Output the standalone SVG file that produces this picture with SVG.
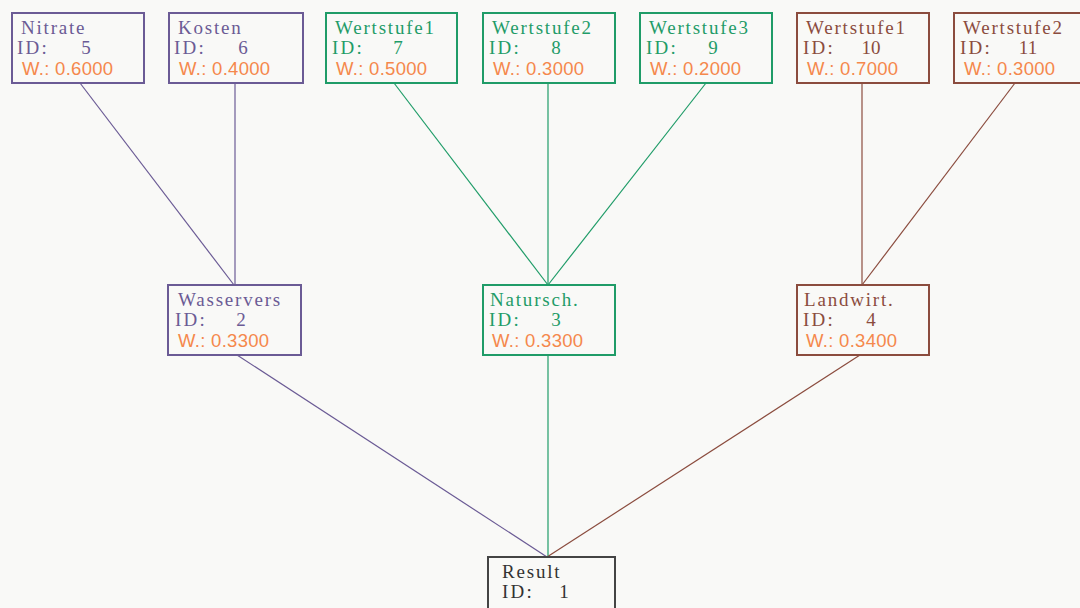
<svg xmlns="http://www.w3.org/2000/svg" width="1080" height="608" viewBox="0 0 1080 608">
<style>
.bg{fill:#f9f9f7}
.box{fill:#f9f9f7;stroke-width:2}
.nm{font-family:"Liberation Serif",serif;font-size:19px;letter-spacing:1.8px}
.id{font-family:"Liberation Serif",serif;font-size:19px;letter-spacing:2.2px}
.num{font-family:"Liberation Serif",serif;font-size:19px;text-anchor:middle}
.w{font-family:"Liberation Sans",sans-serif;font-size:18.5px;letter-spacing:0.3px;fill:#f5884c}
.p{stroke:#6b5b95}.pt{fill:#6b5b95}
.g{stroke:#1f9c68}.gt{fill:#1f9c68}
.b{stroke:#8b4c3e}.bt{fill:#8b4c3e}
.k{stroke:#444}.kt{fill:#333}
.c{fill:none;stroke-width:1.2}
</style>
<rect class="bg" x="0" y="0" width="1080" height="608"/>
<g id="connectors">
<line class="c p" x1="80" y1="83" x2="234" y2="285"/>
<line class="c p" x1="235" y1="83" x2="235" y2="285"/>
<line class="c g" x1="394" y1="83" x2="548" y2="285"/>
<line class="c g" x1="548" y1="83" x2="548" y2="285"/>
<line class="c g" x1="706" y1="83" x2="548" y2="285"/>
<line class="c b" x1="862" y1="83" x2="862" y2="285"/>
<line class="c b" x1="1015" y1="83" x2="862" y2="285"/>
<line class="c p" x1="237" y1="355" x2="547" y2="557"/>
<line class="c g" x1="548" y1="355" x2="548" y2="557"/>
<line class="c b" x1="860" y1="355" x2="547" y2="557"/>
</g>
<g id="n5"><rect class="box p" x="12" y="13" width="132" height="70"/><text class="nm pt" x="21" y="34">Nitrate</text><text class="id pt" x="17" y="54">ID:</text><text class="num pt" x="86" y="54">5</text><text class="w" x="22" y="75">W.: 0.6000</text></g>
<g id="n6"><rect class="box p" x="169" y="13" width="134" height="70"/><text class="nm pt" x="178" y="34">Kosten</text><text class="id pt" x="174" y="54">ID:</text><text class="num pt" x="243" y="54">6</text><text class="w" x="179" y="75">W.: 0.4000</text></g>
<g id="n7"><rect class="box g" x="326" y="13" width="131" height="70"/><text class="nm gt" x="335" y="34">Wertstufe1</text><text class="id gt" x="332" y="54">ID:</text><text class="num gt" x="398" y="54">7</text><text class="w" x="336" y="75">W.: 0.5000</text></g>
<g id="n8"><rect class="box g" x="483" y="13" width="132" height="70"/><text class="nm gt" x="492" y="34">Wertstufe2</text><text class="id gt" x="489" y="54">ID:</text><text class="num gt" x="556" y="54">8</text><text class="w" x="493" y="75">W.: 0.3000</text></g>
<g id="n9"><rect class="box g" x="640" y="13" width="132" height="70"/><text class="nm gt" x="649" y="34">Wertstufe3</text><text class="id gt" x="646" y="54">ID:</text><text class="num gt" x="713" y="54">9</text><text class="w" x="650" y="75">W.: 0.2000</text></g>
<g id="n10"><rect class="box b" x="797" y="13" width="132" height="70"/><text class="nm bt" x="806" y="34">Wertstufe1</text><text class="id bt" x="803" y="54">ID:</text><text class="num bt" x="871" y="54">10</text><text class="w" x="807" y="75">W.: 0.7000</text></g>
<g id="n11"><rect class="box b" x="954" y="13" width="132" height="70"/><text class="nm bt" x="963" y="34">Wertstufe2</text><text class="id bt" x="960" y="54">ID:</text><text class="num bt" x="1028" y="54">11</text><text class="w" x="964" y="75">W.: 0.3000</text></g>
<g id="n2"><rect class="box p" x="168" y="285" width="133" height="70"/><text class="nm pt" x="178" y="306">Wasservers</text><text class="id pt" x="175" y="326">ID:</text><text class="num pt" x="241" y="326">2</text><text class="w" x="178" y="347">W.: 0.3300</text></g>
<g id="n3"><rect class="box g" x="483" y="285" width="132" height="70"/><text class="nm gt" x="490" y="306">Natursch.</text><text class="id gt" x="489" y="326">ID:</text><text class="num gt" x="556" y="326">3</text><text class="w" x="492" y="347">W.: 0.3300</text></g>
<g id="n4"><rect class="box b" x="797" y="285" width="132" height="70"/><text class="nm bt" x="804" y="306">Landwirt.</text><text class="id bt" x="803" y="326">ID:</text><text class="num bt" x="871" y="326">4</text><text class="w" x="806" y="347">W.: 0.3400</text></g>
<g id="n1"><rect class="box k" x="488" y="557" width="127" height="70"/><text class="nm kt" x="502" y="578">Result</text><text class="id kt" x="502" y="598">ID:</text><text class="num kt" x="564" y="598">1</text></g>
</svg>
